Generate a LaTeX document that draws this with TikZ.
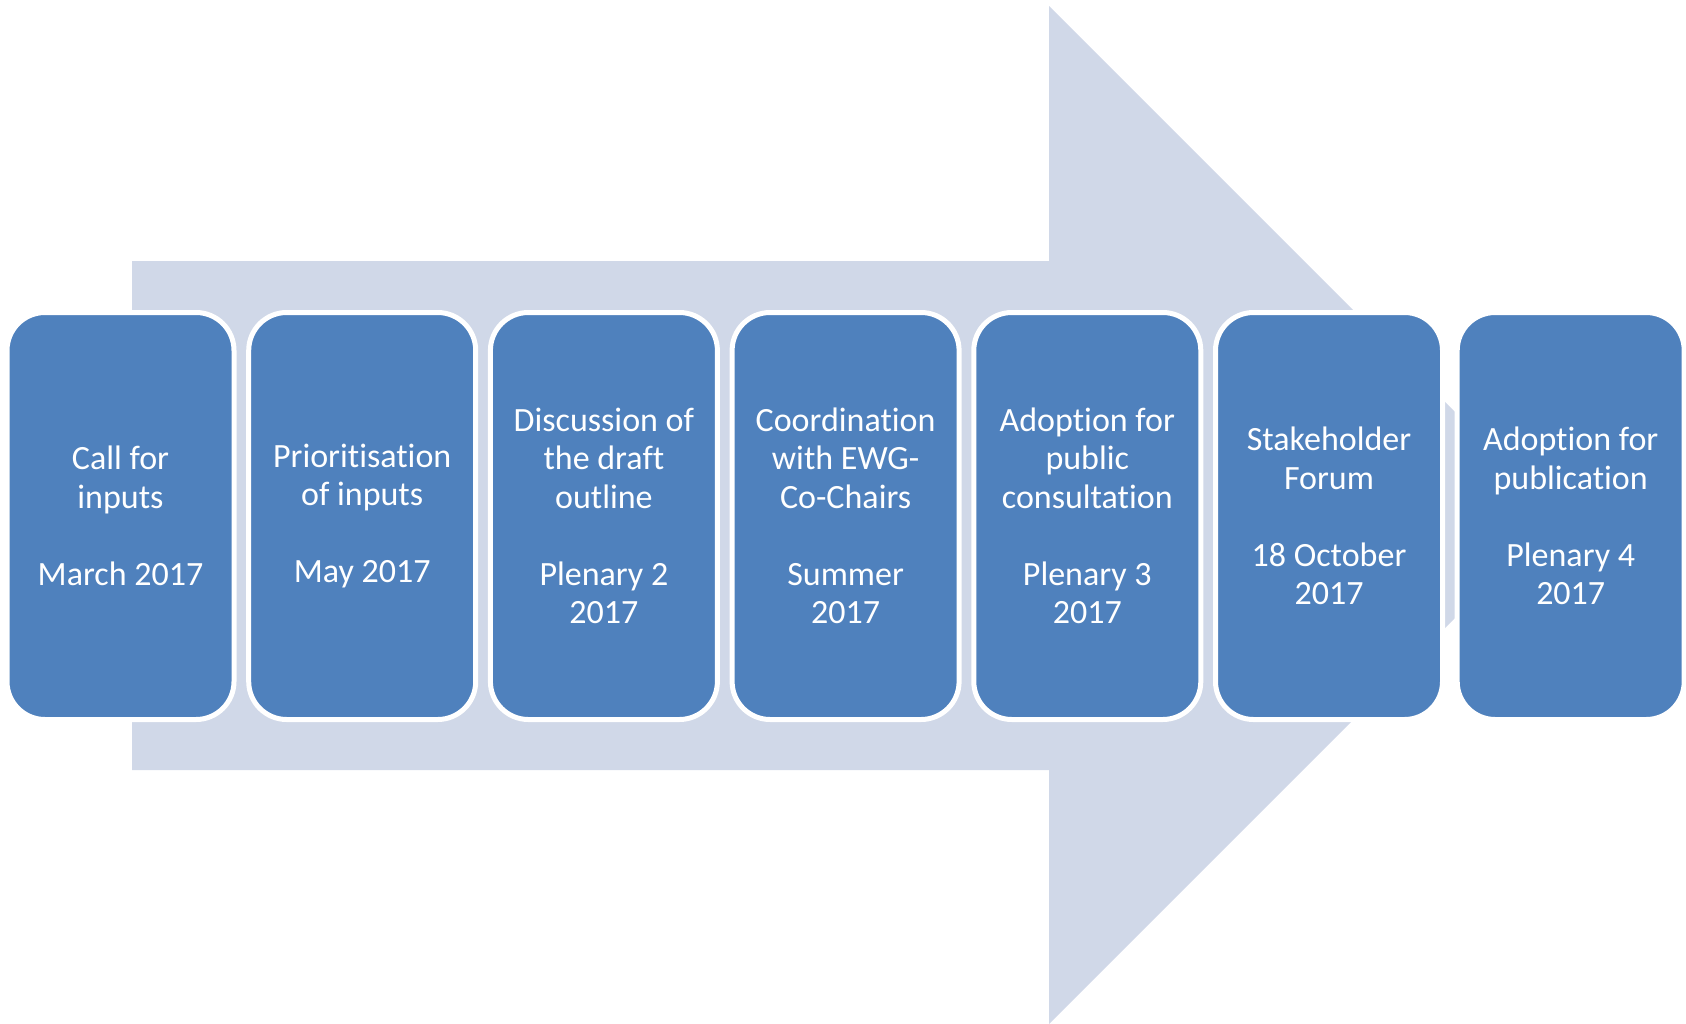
\documentclass[tikz,border=0pt]{standalone}
\usepackage{fontspec}
\setmainfont{Carlito}[Ligatures={NoCommon,NoContextual}, Contextuals=NoAlternate]
\definecolor{shaftblue}{HTML}{D0D8E8}
\definecolor{boxblue}{HTML}{4F81BD}
\tikzset{
  stage/.style={draw=white, line width=5pt, fill=boxblue, rounded corners=38pt,
    minimum width=227pt, minimum height=407pt, inner sep=0pt,
    text=white, align=center, font=\fontsize{34}{38.5}\selectfont}
}

\begin{document}
\begin{tikzpicture}[x=1pt, y=-1pt]
    \useasboundingbox (0,0) rectangle (1686,1023);

    \fill[shaftblue]
    (132,261) -- (1049,261) -- (1049,6) -- (1558,515)
    -- (1049,1024) -- (1049,770) -- (132,770) -- cycle
    ;

    \node(S1)[stage] at (120.5,516) {Call for\\inputs\\[38.5pt]March 2017};
    \node(S2)[stage] at (362.2,516) {Prioritisation\\of inputs\\[38.5pt]May 2017};
    \node(S3)[stage] at (603.9,516) {Discussion of\\the draft\\outline\\[38.5pt]Plenary 2\\2017};
    \node(S4)[stage] at (845.6,516) {Coordination\\with EWG-\\Co-Chairs\\[38.5pt]Summer\\2017};
    \node(S5)[stage] at (1087.3,516) {Adoption for\\public\\consultation\\[38.5pt]Plenary 3\\2017};
    \node(S6)[stage] at (1329,516) {Stakeholder\\Forum\\[38.5pt]18 October\\2017};
    \node(S7)[stage] at (1570.7,516) {Adoption for\\publication\\[38.5pt]Plenary 4\\2017};

  \end{tikzpicture}
\end{document}
